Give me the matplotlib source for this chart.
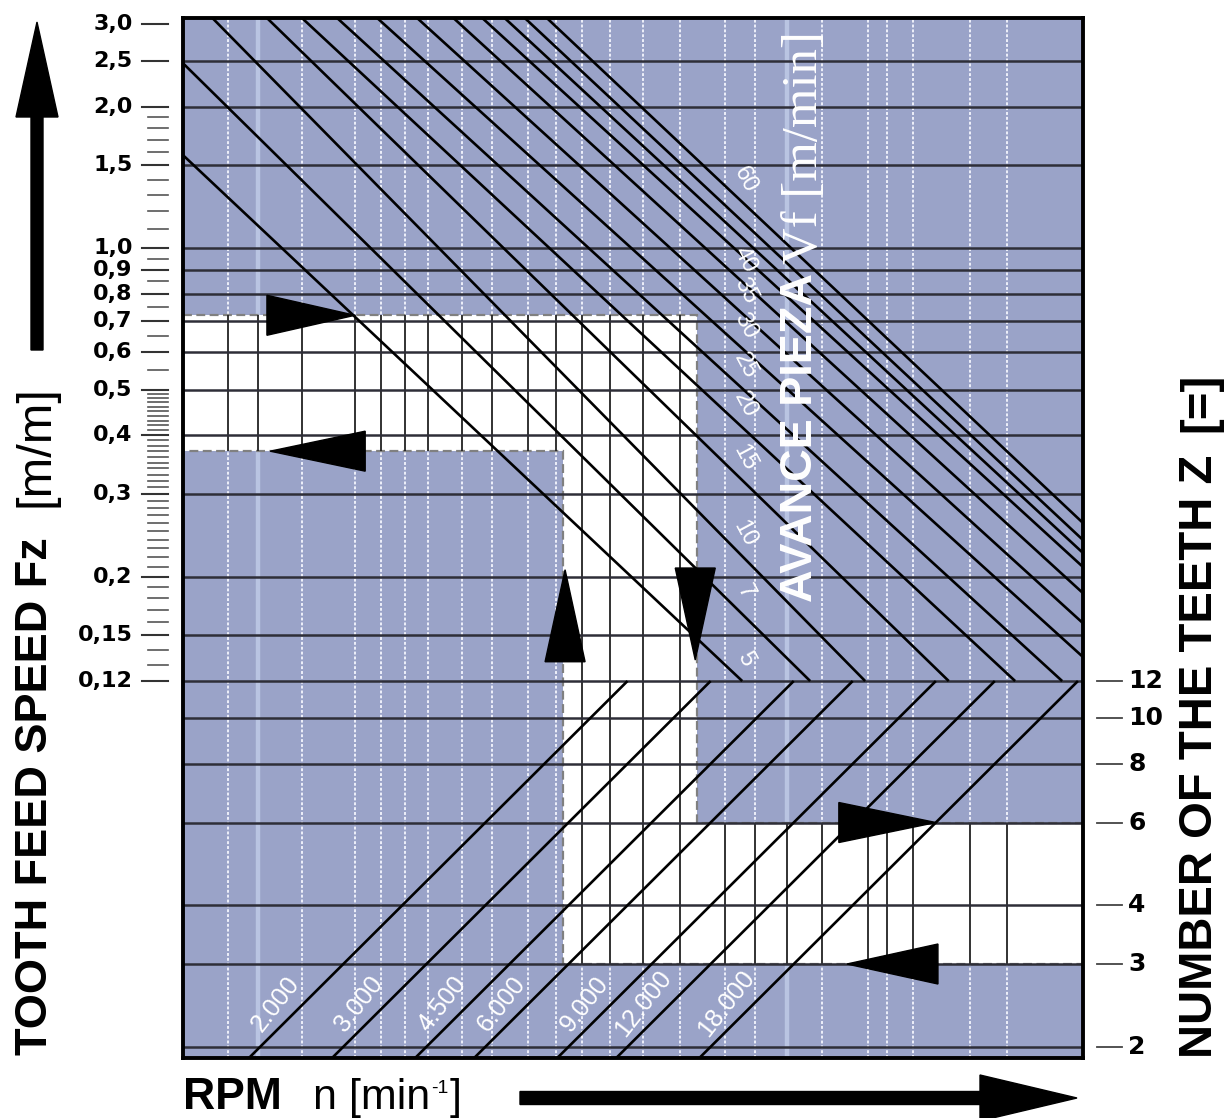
import numpy as np
import matplotlib
matplotlib.use("Agg")
import matplotlib.pyplot as plt
from matplotlib.patches import Polygon, FancyArrow

plt.rcParams['font.family'] = ['Liberation Sans', 'DejaVu Sans']

# 1. CHART DATA

# tooth feed Fz [mm] (upper half, left scale)
fz_ticks = [3.0, 2.5, 2.0, 1.5, 1.0, 0.9, 0.8, 0.7, 0.6, 0.5, 0.4, 0.3, 0.2, 0.15, 0.12]
fz_tick_labels = ["3,0", "2,5", "2,0", "1,5", "1,0", "0,9", "0,8", "0,7", "0,6",
                  "0,5", "0,4", "0,3", "0,2", "0,15", "0,12"]
fz_minor = ([1.9, 1.8, 1.7, 1.6, 1.4, 1.3, 1.2, 1.1, 0.95, 0.85, 0.75, 0.65, 0.55]
            + [round(0.49 - 0.01 * i, 2) for i in range(37)])

# number of teeth Z (lower half, right scale)
z_ticks = [12, 10, 8, 6, 4, 3, 2]

# spindle speed lines n [1/min]
rpm_values = [2000, 3000, 4500, 6000, 9000, 12000, 18000]
rpm_labels = ["2.000", "3.000", "4.500", "6.000", "9.000", "12.000", "18.000"]

# feed lines Vf [m/min]; the printed lines are not exactly parallel, so each one is
# given by the tooth passes per minute (Z*n) where it crosses Fz = 3,0 and Fz = 0,12
vf_values = [5, 7, 10, 15, 20, 25, 30, 35, 40, 45, 50, 55, 60]
vf_labelled = [5, 7, 10, 15, 20, 25, 30, 35, 40, 60]
vf_zn_top = [1390, 2260, 3260, 4260, 5060, 6010, 7310, 8880, 10600, 12200, 13600, 15000, 16700]
vf_zn_bottom = [42000, 58500, 76500, 115000, 159000, 200000, 252000, 302000,
                354000, 407000, 435000, 462000, 502000]

# vertical grid of the chart (Z*n)
grid_zn = [3420, 3960, 4910, 6350, 7210, 8110, 9070, 10700, 12400, 14800, 16900, 19200,
           22000, 25900, 31000, 38600, 44700, 52300, 62000, 77600, 85100, 96700,
           127600, 152900]
wide_grid_zn = [3960, 52300]

# worked example (white path)
fz_band = (0.37, 0.72)
z_band = (3, 6)
zn_band = (17500, 33700)

# 2. LAYOUT

W, H = 1226, 1118
ZN_MIN, ZN_MAX = 2745, 221400
V_MIN, V_MAX = 0.01893, 3.089     # Fz on top, Z/100 below
Z_SCALE = 100.0

BLUE = '#9aa3c8'

fig = plt.figure(figsize=(W / 100, H / 100), dpi=100)
ax = fig.add_axes([183 / W, 1 - 1058 / H, 900 / W, 1040 / H])
ax.set_xscale('log')
ax.set_yscale('log')
ax.set_xlim(ZN_MIN, ZN_MAX)
ax.set_ylim(V_MIN, V_MAX)
ax.set_facecolor(BLUE)
ax.set_xticks([])
ax.set_xticks([], minor=True)
ax.set_yticks([])
ax.set_yticks([], minor=True)
for s in ax.spines.values():
    s.set_linewidth(2.8)
    s.set_color('black')
    s.set_zorder(10)

px_dec_x = 900 / (np.log10(ZN_MAX) - np.log10(ZN_MIN))
px_dec_y = 1040 / (np.log10(V_MAX) - np.log10(V_MIN))

# 3. BACKGROUND GRID AND WHITE PATH

for zn in grid_zn:
    if zn in wide_grid_zn:
        ax.axvline(zn, color='#b9c4e2', lw=3.2, zorder=1)
    else:
        ax.axvline(zn, color='#eef0fa', lw=1.4, ls=(0, (1.5, 1)), zorder=1)

fz_lo, fz_hi = fz_band
v_lo, v_hi = z_band[0] / Z_SCALE, z_band[1] / Z_SCALE
path = [(ZN_MIN, fz_hi), (zn_band[1], fz_hi), (zn_band[1], v_hi), (ZN_MAX, v_hi),
        (ZN_MAX, v_lo), (zn_band[0], v_lo), (zn_band[0], fz_lo), (ZN_MIN, fz_lo)]
white = Polygon(path, closed=True, facecolor='white', edgecolor='none', zorder=2)
ax.add_patch(white)
ax.add_patch(Polygon(path, closed=True, fill=False, edgecolor='#808080', lw=1.6,
                     ls=(0, (4, 2)), zorder=3))

for zn in grid_zn:
    ln = ax.axvline(zn, color='#222222', lw=1.3, zorder=3)
    ln.set_clip_path(white)

for v in fz_ticks[1:]:
    ax.axhline(v, color='#2e2e38', lw=1.8, zorder=4)
for z in z_ticks[1:]:
    ax.axhline(z / Z_SCALE, color='#2e2e38', lw=1.8, zorder=4)

# 4. FEED LINES (upper) AND SPEED LINES (lower)

log_top, log_bot = np.log10(3.0), np.log10(0.12)
label_zn = 42600
for vf, zt, zb in zip(vf_values, vf_zn_top, vf_zn_bottom):
    a, b = np.log10(zt), np.log10(zb)
    fz_end = 3.6
    t = (np.log10(fz_end) - log_bot) / (log_top - log_bot)
    ax.plot([zb, 10 ** (b + t * (a - b))], [0.12, fz_end], color='black', lw=1.9,
            solid_capstyle='butt', zorder=5)
    if vf in vf_labelled:
        t = (np.log10(label_zn) - b) / (a - b)
        fz_lab = 10 ** (log_bot + t * (log_top - log_bot))
        ax.annotate(str(vf), (label_zn, fz_lab), xytext=(0, 18), textcoords='offset points',
                    color='white', fontsize=17, rotation=-62, ha='center', va='center',
                    zorder=8)

for n, lab in zip(rpm_values, rpm_labels):
    ax.plot([Z_SCALE * n * V_MIN, Z_SCALE * n * 0.12], [V_MIN, 0.12], color='black',
            lw=1.9, solid_capstyle='butt', zorder=5)
    v_lab = 0.0231
    ax.annotate(lab, (Z_SCALE * n * v_lab, v_lab), xytext=(-10, 10),
                textcoords='offset points', color='white', fontsize=18, rotation=52,
                ha='center', va='center', zorder=8)

# 5. EXAMPLE ARROWS


def triangle(zn_tip, v_tip, direction, length=92, half=20):
    lx, ly = np.log10(zn_tip), np.log10(v_tip)
    if direction in ('right', 'left'):
        L = length / px_dec_x * (1 if direction == 'right' else -1)
        h = half / px_dec_y
        pts = [(lx, ly), (lx - L, ly + h), (lx - L, ly - h)]
    else:
        L = length / px_dec_y * (1 if direction == 'up' else -1)
        h = half / px_dec_x
        pts = [(lx, ly), (lx - h, ly - L), (lx + h, ly - L)]
    pts = [(10 ** x, 10 ** y) for x, y in pts]
    ax.add_patch(Polygon(pts, closed=True, facecolor='black', edgecolor='black', zorder=7))


triangle(6350, fz_hi, 'right', length=88)
triangle(4200, fz_lo, 'left', length=95)
triangle(17700, 0.207, 'up')
triangle(33400, 0.133, 'down')
triangle(108000, v_hi, 'right', length=97)
triangle(70000, v_lo, 'left', length=91)

# 6. SCALES

ytr = ax.get_yaxis_transform()
for v, lab in zip(fz_ticks, fz_tick_labels):
    ax.plot([-0.0456, -0.0167], [v, v], transform=ytr, color='#333333', lw=1.5, clip_on=False)
    ax.text(-0.056, v, lab, transform=ytr, ha='right', va='center', fontsize=16,
            fontweight='bold', family='DejaVu Sans')
for v in fz_minor:
    if v in fz_ticks:
        continue
    ax.plot([-0.039, -0.0167], [v, v], transform=ytr, color='#555555', lw=1.2, clip_on=False)

for z in z_ticks:
    ax.plot([1.0156, 1.0433], [z / Z_SCALE] * 2, transform=ytr, color='#444444', lw=1.3,
            clip_on=False)
    ax.text(1.05, z / Z_SCALE, str(z), transform=ytr, ha='left', va='center', fontsize=18,
            fontweight='bold', family='DejaVu Sans')

# 7. TITLES AND BIG ARROWS

fig.text(0.029, 1 - 1055 / H, "TOOTH FEED SPEED Fz", rotation=90, ha='center', va='bottom',
         fontsize=32.5, fontweight='bold')
fig.text(0.029, 1 - 507 / H, "[m/m]", rotation=90, ha='center', va='bottom', fontsize=35)

fig.text(1200 / W, 1 - 1058 / H, "NUMBER OF THE TEETH Z", rotation=90, ha='center',
         va='bottom', fontsize=34, fontweight='bold')
fig.text(1200 / W, 1 - 432 / H, "[=]", rotation=90, ha='center', va='bottom', fontsize=34,
         fontweight='bold')

base_y = 1 - 1109 / H
fig.text(183 / W, base_y, "RPM", ha='left', va='baseline', fontsize=32, fontweight='bold')
renderer = fig.canvas.get_renderer()
t1 = fig.text(313 / W, base_y, "n [min", ha='left', va='baseline', fontsize=31)
bb = t1.get_window_extent(renderer)
t2 = fig.text(bb.x1 / W + 0.001, 1 - 1080 / H, "-1", ha='left', va='top', fontsize=14)
bb2 = t2.get_window_extent(renderer)
fig.text(bb2.x1 / W + 0.001, base_y, "]", ha='left', va='baseline', fontsize=31)

fig.text(801 / W, 1 - 602 / H, "AVANCE PIEZA", rotation=90, ha='center', va='bottom',
         fontsize=32.5, fontweight='bold', color='white', zorder=9)
fig.text(805 / W, 1 - 264 / H, "Vf [m/min]", rotation=90, ha='center', va='bottom',
         fontsize=36.5, color='white', family=['Liberation Serif', 'DejaVu Serif'], zorder=9)

fig.add_artist(FancyArrow(0.37, (H - 350) / 100, 0, 3.28, width=0.12, head_width=0.42,
                          head_length=0.95, length_includes_head=True, color='black',
                          transform=fig.dpi_scale_trans))
fig.add_artist(FancyArrow(5.20, (H - 1098) / 100, 5.57, 0, width=0.13, head_width=0.46,
                          head_length=0.97, length_includes_head=True, color='black',
                          transform=fig.dpi_scale_trans))

fig.savefig("out.png", dpi=100)
